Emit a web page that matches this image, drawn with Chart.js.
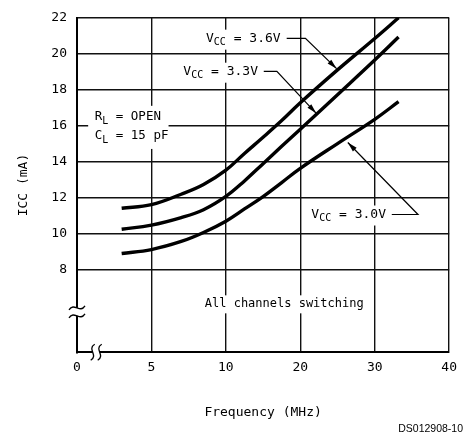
<!DOCTYPE html>
<html><head><meta charset="utf-8">
<script src="https://cdn.jsdelivr.net/npm/chart.js@4"></script>
<style>html,body{margin:0;padding:0;background:#fff}#wrap{width:465px;height:440px;position:relative}</style>
</head><body><div id="wrap"><canvas id="c"></canvas></div>
<script>
// ---- data ----
const xTickLabels = ['0','5','10','20','30','40'];
const xTickFreqs = [0,5,10,20,30,40];
const yTickValues = [8,10,12,14,16,18,20,22];
const freqMHz = [3, 5, 7, 8.5, 10, 12.5, 15, 17.5, 20, 25, 30, 33.2];
const icc36 = [11.4, 11.6, 12.18, 12.72, 13.52, 14.45, 15.35, 16.28, 17.27, 19.1, 20.85, 22.0];
const icc33 = [10.23, 10.46, 10.88, 11.32, 12.06, 12.92, 13.88, 14.85, 15.8, 17.72, 19.65, 20.93];
const icc30 = [8.88, 9.1, 9.55, 10.05, 10.68, 11.36, 12.05, 12.83, 13.62, 15.0, 16.35, 17.33];
const seriesLabels = ['VCC = 3.6V', 'VCC = 3.3V', 'VCC = 3.0V'];

// broken x axis: ticks evenly spaced, piecewise linear between them
function freqToPos(f){
  for (let i = 1; i < xTickFreqs.length; i++) {
    if (f <= xTickFreqs[i]) { const a = xTickFreqs[i-1], b = xTickFreqs[i]; return (i-1) + (f-a)/(b-a); }
  }
  return xTickFreqs.length - 1;
}
function pts(arr){ return freqMHz.map((f,i)=>({x: freqToPos(f), y: arr[i]})); }

const MONO = 'DejaVu Sans Mono';

// annotations placed in scale units (x = tick position, y = mA)
const annotations = [
  {parts:[['V',13,0],['CC',10,4],[' = 3.6V',13,0]], x:1.733, y:20.84, leader:[[2.817,20.86],[3.069,20.86],[3.488,19.17]]},
  {parts:[['V',13,0],['CC',10,4],[' = 3.3V',13,0]], x:1.429, y:19.0, leader:[[2.509,19.02],[2.685,19.02],[3.214,16.68]]},
  {parts:[['V',13,0],['CC',10,4],[' = 3.0V',13,0]], x:3.148, y:11.05, leader:[[4.229,11.05],[4.581,11.05],[3.638,15.06]]},
  {parts:[['R',12.5,0],['L',10,4],[' = OPEN',12.5,0]], x:0.238, y:16.47, leader:null, mask:[0.15,1.23,17.1,14.7]},
  {parts:[['C',12.5,0],['L',10,4],[' = 15 pF',12.5,0]], x:0.238, y:15.42, leader:null},
];
const centerNote = {text:'All channels switching', x:2.784, y:6.05, size:12};
const yBreakValue = 5.63;
const xBreakPos = 0.258;

const annotPlugin = {
  id:'annot',
  afterDatasetsDraw(chart){
    const ctx = chart.ctx, xs = chart.scales.x, ys = chart.scales.y, ca = chart.chartArea;
    ctx.save();
    ctx.textBaseline = 'middle';
    // center note
    ctx.font = centerNote.size + 'px "' + MONO + '"';
    const cw = ctx.measureText(centerNote.text).width;
    const cx = xs.getPixelForValue(centerNote.x), cy = ys.getPixelForValue(centerNote.y);
    ctx.fillStyle = '#fff'; ctx.fillRect(cx - cw/2 - 4, cy - 9, cw + 8, 18);
    ctx.fillStyle = '#000'; ctx.textAlign = 'center'; ctx.fillText(centerNote.text, cx, cy);
    ctx.textAlign = 'left';
    // label masks
    annotations.forEach(a => {
      const px = xs.getPixelForValue(a.x), py = ys.getPixelForValue(a.y);
      let w = 0;
      a.parts.forEach(p => { ctx.font = p[1] + 'px "' + MONO + '"'; w += ctx.measureText(p[0]).width; });
      ctx.fillStyle = '#fff';
      if (a.mask) {
        const mx0 = xs.getPixelForValue(a.mask[0]), mx1 = xs.getPixelForValue(a.mask[1]);
        const my0 = ys.getPixelForValue(a.mask[2]), my1 = ys.getPixelForValue(a.mask[3]);
        ctx.fillRect(mx0, my0, mx1 - mx0, my1 - my0);
      } else {
        ctx.fillRect(px - 3, py - 9, w + 6, 20);
      }
    });
    // label texts and leaders
    annotations.forEach(a => {
      let px = xs.getPixelForValue(a.x); const py = ys.getPixelForValue(a.y);
      ctx.fillStyle = '#000';
      a.parts.forEach(p => {
        ctx.font = p[1] + 'px "' + MONO + '"';
        ctx.fillText(p[0], px, py + p[2]);
        px += ctx.measureText(p[0]).width;
      });
      if (a.leader) {
        const L = a.leader.map(q => [xs.getPixelForValue(q[0]), ys.getPixelForValue(q[1])]);
        ctx.strokeStyle = '#000'; ctx.lineWidth = 1.2;
        ctx.beginPath(); ctx.moveTo(L[0][0], L[0][1]);
        for (let i = 1; i < L.length; i++) ctx.lineTo(L[i][0], L[i][1]);
        ctx.stroke();
        const t = L[L.length-1], s = L[L.length-2];
        const ang = Math.atan2(t[1]-s[1], t[0]-s[0]);
        const len = 10, hw = 2.6;
        ctx.beginPath();
        ctx.moveTo(t[0], t[1]);
        ctx.lineTo(t[0] - len*Math.cos(ang) + hw*Math.sin(ang), t[1] - len*Math.sin(ang) - hw*Math.cos(ang));
        ctx.lineTo(t[0] - len*Math.cos(ang) - hw*Math.sin(ang), t[1] - len*Math.sin(ang) + hw*Math.cos(ang));
        ctx.closePath(); ctx.fill();
      }
    });
    // axis breaks
    ctx.strokeStyle = '#000'; ctx.lineWidth = 1.3;
    const byp = ys.getPixelForValue(yBreakValue), bx = ca.left;
    ctx.fillStyle = '#fff'; ctx.fillRect(bx - 3, byp - 4, 6, 8);
    [-4, 4].forEach(d => {
      ctx.beginPath();
      ctx.moveTo(bx - 8, byp + d + 2);
      ctx.bezierCurveTo(bx - 3, byp + d - 6, bx + 3, byp + d + 6, bx + 8, byp + d - 2);
      ctx.stroke();
    });
    const bxp = xs.getPixelForValue(xBreakPos), by = ca.bottom;
    ctx.fillStyle = '#fff'; ctx.fillRect(bxp - 3.5, by - 3, 7, 6);
    [-3.5, 3.5].forEach(d => {
      ctx.beginPath();
      ctx.moveTo(bxp + d + 2, by - 8);
      ctx.bezierCurveTo(bxp + d - 6, by - 3, bxp + d + 6, by + 3, bxp + d - 2, by + 8);
      ctx.stroke();
    });
    // document id
    ctx.fillStyle = '#000'; ctx.font = '10.5px "Liberation Sans"'; ctx.textAlign = 'right';
    ctx.fillText('DS012908-10', chart.width - 2, 429);
    ctx.restore();
  }
};

const lineDs = (label, arr) => ({
  label, data: pts(arr), borderColor:'#000', borderWidth:3.4, pointRadius:0,
  tension:0.4, fill:false, borderCapStyle:'butt'
});

new Chart(document.getElementById('c'), {
  type:'line',
  data:{ datasets:[ lineDs(seriesLabels[0], icc36), lineDs(seriesLabels[1], icc33), lineDs(seriesLabels[2], icc30) ] },
  options:{
    responsive:true, maintainAspectRatio:false, animation:false,
    layout:{ padding:{ top:10.7, right:9, bottom:0, left:0 } },
    plugins:{ legend:{display:false}, tooltip:{enabled:false} },
    scales:{
      x:{
        type:'linear', min:0, max:xTickLabels.length-1,
        afterBuildTicks: s => { s.ticks = xTickLabels.map((_, i) => ({value:i})); },
        afterFit: s => { s.height = 87.7; },
        ticks:{ callback: v => xTickLabels[v], font:{family:MONO, size:13}, color:'#000', padding:8, maxRotation:0, autoSkip:false },
        grid:{ color:'#111', lineWidth:1.4, drawTicks:false },
        border:{ display:true, color:'#000', width:2 },
        title:{ display:true, text:'Frequency (MHz)', color:'#000', font:{family:MONO, size:13, lineHeight:1.2}, padding:{top:0, bottom:20} }
      },
      y:{
        type:'linear', min:3.38, max:22,
        afterBuildTicks: s => { s.ticks = yTickValues.map(v => ({value:v})); },
        afterFit: s => { s.width = 77; },
        ticks:{ font:{family:MONO, size:13}, color:'#000', padding:10 },
        grid:{ color:'#111', lineWidth:1.4, drawTicks:false },
        border:{ display:true, color:'#000', width:2 },
        title:{ display:true, text:'ICC (mA)', color:'#000', font:{family:MONO, size:13, lineHeight:1.2}, padding:{top:16, bottom:0} }
      }
    }
  },
  plugins:[annotPlugin]
});
</script></body></html>
